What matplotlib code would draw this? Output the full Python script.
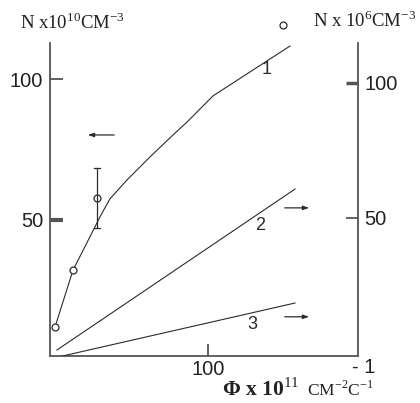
import numpy as np
import matplotlib.pyplot as plt

# ---------- data ----------
# curve 1 (left axis, N x 10^10 cm^-3)
c1_x = [3.2, 14.6, 17.8, 31.7, 38.0, 48.8, 63.4, 78.0, 86.9, 103.4, 152.2]
c1_y = [12.0, 32.2, 35.7, 51.1, 57.5, 64.2, 72.4, 80.2, 84.8, 94.1, 111.8]
pts_x = [3.2, 14.6, 29.8, 147.7]
pts_y = [12.0, 32.2, 57.8, 119.3]
err_x = 29.8
err_lo, err_hi = 47.2, 68.6

# curves 2 and 3 (right axis, N x 10^6 cm^-3)
c2_x = [4.4, 155.4]
c2_y = [1.0, 60.6]
c3_x = [8.1, 155.4]
c3_y = [-1.2, 18.4]

LINE = "#2b2b2b"
SPINE = "#555555"
TXT = "#222222"
SANS = "Liberation Sans"
SERIF = "Liberation Serif"

plt.rcParams["mathtext.fontset"] = "custom"
plt.rcParams["mathtext.rm"] = SERIF
plt.rcParams["mathtext.bf"] = SERIF + ":bold"

fig = plt.figure(figsize=(4.2, 4.03), dpi=100)
ax = fig.add_axes([50 / 420, 47 / 403, 307.5 / 420, 346 / 403])
ax2 = ax.twinx()
ax2.set_position(ax.get_position())

ax.set_xlim(0, 195)
ax.set_ylim(1.67, 124.6)
ax2.set_ylim(-1.22, 126.9)

# ---------- curves ----------
ax.plot(c1_x, c1_y, color=LINE, lw=0.8)
ax.plot(pts_x, pts_y, "o", ms=5, mfc="white", mec=LINE, mew=0.9, clip_on=False)
ax.plot([err_x, err_x], [err_lo, err_hi], color=LINE, lw=0.9)
ax.plot([err_x - 2, err_x + 2], [err_hi, err_hi], color=LINE, lw=0.9)
ax.plot([err_x - 2, err_x + 2], [err_lo, err_lo], color=LINE, lw=0.9)

ax2.plot(c2_x, c2_y, color=LINE, lw=0.8)
ax2.plot(c3_x, c3_y, color=LINE, lw=0.8)

# curve numbers
for tx, ty, s in [(137.6, 103.3, "1"), (133.2, 47.9, "2"), (128.1, 12.7, "3")]:
    ax.text(tx, ty, s, fontsize=13, family=SANS, color=LINE, ha="center", va="center")

# arrows showing which axis the curves belong to
arrow = dict(arrowstyle="-|>,head_length=0.35,head_width=0.12", color=LINE, lw=0.9)
ax.annotate("", xy=(22.2, 80.2), xytext=(42.5, 80.2), arrowprops=arrow)
ax.annotate("", xy=(166.1, 54.3), xytext=(147.1, 54.3), arrowprops=arrow)
ax.annotate("", xy=(166.1, 15.6), xytext=(147.1, 15.6), arrowprops=arrow)

# ---------- spines ----------
for a in (ax, ax2):
    a.spines["top"].set_visible(False)
ax.spines["right"].set_visible(False)
ax2.spines["left"].set_visible(False)
ax2.spines["bottom"].set_visible(False)
for sp in (ax.spines["left"], ax.spines["bottom"], ax2.spines["right"]):
    sp.set_color(SPINE)
    sp.set_linewidth(1.3)
ax.spines["left"].set_bounds(1.67, 112.9)
ax2.spines["right"].set_bounds(-1.22, 114.7)

# ---------- ticks ----------
ax.set_xticks([100])
ax.set_yticks([50, 100])
ax2.set_yticks([50, 100])
ax.tick_params(axis="both", direction="in", length=9, width=1.3, color=SPINE,
               labelsize=14.5, labelcolor=TXT, pad=5)
ax2.tick_params(axis="y", direction="in", length=9, width=1.3, color=SPINE,
                labelsize=14.5, labelcolor=TXT, pad=5)
ax.tick_params(axis="x", pad=3)
ax.yaxis.get_major_ticks()[0].tick1line.set_markeredgewidth(3)
ax2.yaxis.get_major_ticks()[1].tick2line.set_markeredgewidth(2.5)
for lab in ax.get_xticklabels() + ax.get_yticklabels() + ax2.get_yticklabels():
    lab.set_family(SANS)

ax.text(1.02, -0.005, "- 1", transform=ax.transAxes, fontsize=14.5, family=SANS,
        color=TXT, ha="center", va="top")

# ---------- axis titles ----------
fig.text(20 / 420, 1 - 29 / 403, r"N x10$^{10}$CM$^{-3}$", fontsize=13.5,
         family=SERIF, color=TXT, ha="left", va="baseline")
fig.text(313 / 420, 1 - 27 / 403, r"N x 10$^{6}$CM$^{-3}$", fontsize=13.5,
         family=SERIF, color=TXT, ha="left", va="baseline")
fig.text(222 / 420, 1 - 396 / 403, r"$\mathbf{\Phi}$ x 10$^{11}$", fontsize=15.5,
         family=SERIF, weight="bold", color=TXT, ha="left", va="baseline")
fig.text(307 / 420, 1 - 396 / 403, r"CM$^{-2}$C$^{-1}$", fontsize=12.5,
         family=SERIF, color=TXT, ha="left", va="baseline")

fig.savefig("out.png", dpi=100)
